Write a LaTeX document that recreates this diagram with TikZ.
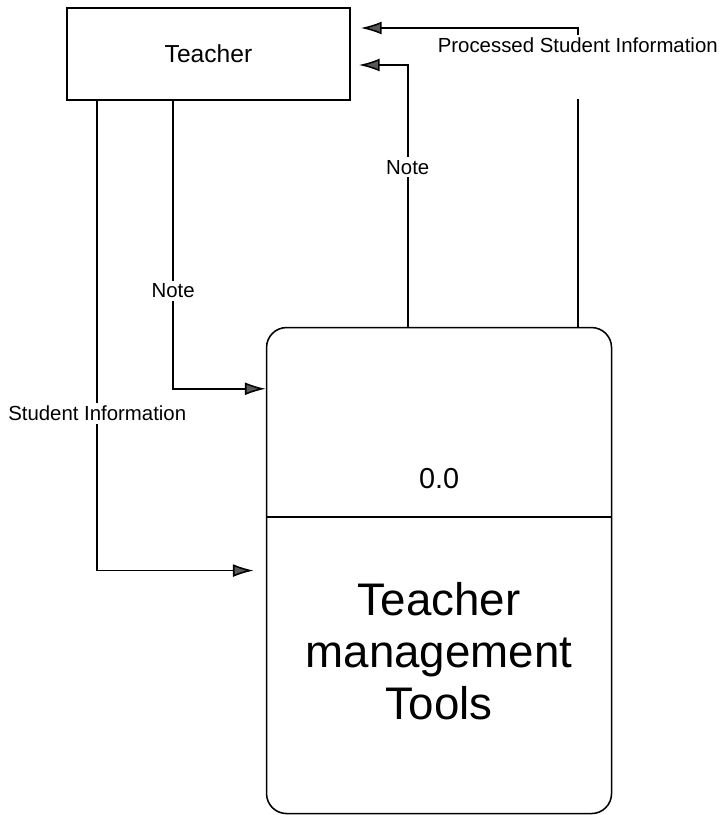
\documentclass[tikz,border=0pt]{standalone}
\usepackage{fontspec}
\setmainfont{Liberation Sans}
\usetikzlibrary{arrows.meta, positioning}

\begin{document}
\begin{tikzpicture}[
  font=\fontsize{14.5}{17}\selectfont,
  entity/.style={rectangle, draw=black, line width=1.1pt, minimum width=7.075cm, minimum height=2.3cm, align=center, font=\fontsize{17.5}{21}\selectfont},
  process/.style={rectangle, draw=black, line width=1.1pt, rounded corners=0.5cm, minimum width=8.625cm, minimum height=12.15cm},
  flow/.style={line width=1.1pt, -{Latex[length=5.2mm, width=3.2mm, fill=black!65]}},
  flowlabel/.style={fill=white, inner sep=2pt}
]
\useasboundingbox (0,0) rectangle (18.05,-20.375);

\node[entity] (teacher) at (5.2125,-1.35) {Teacher};
\node[process, below right=5.65cm and -2.125cm of teacher] (tools) {};

% split line of the process
\coordinate (split) at ([yshift=-4.75cm]tools.north);
\draw[line width=1.1pt] (tools.west |- split) -- (tools.east |- split);
\node[font=\fontsize{20.5}{24}\selectfont] (num) at ([yshift=0.95cm]split) {0.0};
\node[font=\fontsize{32.5}{37}\selectfont, align=center] (name) at ([yshift=-3.35cm]split) {Teacher\\management\\Tools};

\coordinate (notein) at ([yshift=-1.55cm]tools.north west);

\draw[flow] ([xshift=0.775cm]teacher.south west) |- node[flowlabel, pos=0.333] {Student Information} ([xshift=-0.3cm]tools.west);
\draw[flow] ([xshift=2.675cm]teacher.south west) |- node[flowlabel, pos=0.33] {Note} (notein);
\draw[flow] ([xshift=3.55cm]tools.north west) |- node[flowlabel, pos=0.305] {Note} ([shift={(0.2cm,-0.275cm)}]teacher.east);
\draw[flow] ([xshift=7.8cm]tools.north west) |- node[flowlabel, pos=0.49, anchor=north, text depth=1.1cm] {Processed Student Information} ([shift={(0.25cm,0.65cm)}]teacher.east);
\end{tikzpicture}
\end{document}
